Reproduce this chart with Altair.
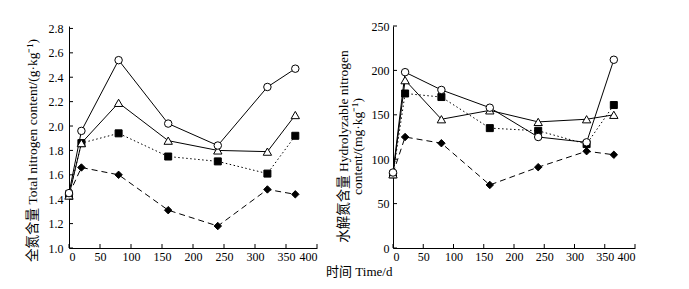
import altair as alt
import pandas as pd

days = [0, 20, 80, 160, 240, 320, 365]

tn_circle = [1.45, 1.96, 2.54, 2.02, 1.84, 2.32, 2.47]
tn_triangle = [1.43, 1.86, 2.19, 1.88, 1.80, 1.79, 2.09]
tn_square = [1.44, 1.86, 1.94, 1.75, 1.71, 1.61, 1.92]
tn_diamond = [1.44, 1.66, 1.60, 1.31, 1.18, 1.48, 1.44]

hn_circle = [85, 198, 178, 158, 125, 119, 212]
hn_triangle = [83, 189, 145, 155, 142, 145, 150]
hn_square = [83, 174, 170, 135, 132, 117, 161]
hn_diamond = [84, 125, 118, 71, 91, 109, 105]

x_ticks = [0, 50, 100, 150, 200, 250, 300, 350, 400]
tn_ticks = [1.0, 1.2, 1.4, 1.6, 1.8, 2.0, 2.2, 2.4, 2.6, 2.8]
hn_ticks = [0, 50, 100, 150, 200, 250]

left_title = "全氮含量 Total nitrogen content/(g·kg⁻¹)"
right_title = ["水解氮含量 Hydrolyzable nitrogen", "content/(mg·kg⁻¹)"]
x_title = "时间 Time/d"

# series styles: (name, line dash, shape, filled, size)
styles = [
    ("diamond", [6, 4], "diamond", True, 55),
    ("square", [1.5, 2.5], "square", True, 49),
    ("triangle", [], "triangle-up", False, 70),
    ("circle", [], "circle", False, 56),
]

SERIF = "Liberation Serif, Noto Sans CJK SC"
H = 222


def panel(series, ydomain, yticks, yfmt, width, ytitle, label_pad, title_pad, title_y):
    xs = alt.Scale(domain=[0, 400], nice=False)
    ys = alt.Scale(domain=ydomain, nice=False, zero=False)
    xax = alt.Axis(values=x_ticks, title=None, labelPadding=3)
    yax = alt.Axis(values=yticks, format=yfmt, title=ytitle, labelPadding=label_pad,
                   titlePadding=title_pad, titleY=title_y)

    def X(f="t:Q"):
        return alt.X(f, scale=xs, axis=xax)

    def Y(f="v:Q"):
        return alt.Y(f, scale=ys, axis=yax)

    layers = []
    for name, dash, shape, filled, size in styles:
        df = pd.DataFrame({"t": days, "v": series[name]})
        line_kw = dict(color="black", strokeWidth=1)
        if dash:
            line_kw["strokeDash"] = dash
        layers.append(alt.Chart(df).mark_line(**line_kw).encode(x=X(), y=Y()))
    for name, dash, shape, filled, size in styles:
        df = pd.DataFrame({"t": days, "v": series[name]})
        pt_kw = dict(shape=shape, size=size, stroke="black", strokeWidth=1, opacity=1,
                     filled=True, fill="black" if filled else "white")
        layers.append(alt.Chart(df).mark_point(**pt_kw).encode(x=X(), y=Y()))
    # inward ticks
    xt = pd.DataFrame({"t": x_ticks})
    yt = pd.DataFrame({"v": yticks})
    layers.append(alt.Chart(xt).mark_rule(color="black", strokeWidth=1).encode(
        x=X(), y=alt.value(H), y2=alt.value(H - 4)))
    layers.append(alt.Chart(yt).mark_rule(color="black", strokeWidth=1).encode(
        y=Y(), x=alt.value(0), x2=alt.value(4)))
    return alt.layer(*layers).properties(width=width, height=H)


left = panel({"circle": tn_circle, "triangle": tn_triangle, "square": tn_square, "diamond": tn_diamond},
             [1.0, 2.82], tn_ticks, ".1f", 248, left_title, 6, 9, 124)
right = panel({"circle": hn_circle, "triangle": hn_triangle, "square": hn_square, "diamond": hn_diamond},
              [0, 250], hn_ticks, "d", 242, right_title, 4, 7, 120)

chart = alt.hconcat(left, right, spacing=18).properties(
    title=alt.TitleParams(text=x_title, orient="bottom", anchor="middle", dx=29, offset=4,
                          font=SERIF, fontSize=13, fontWeight="normal", color="black"),
    padding={"left": 17, "top": 12, "right": 5, "bottom": 5},
).configure_view(stroke=None).configure_axis(
    domainColor="black", domainWidth=1, tickSize=0, grid=False,
    labelFont="Liberation Serif", labelFontSize=12, labelColor="black",
    titleFont=SERIF, titleFontSize=13.5, titleFontWeight="normal", titleColor="black",
    titleLineHeight=14,
)

chart.save("out.html", embed_options={"renderer": "svg", "actions": False})
